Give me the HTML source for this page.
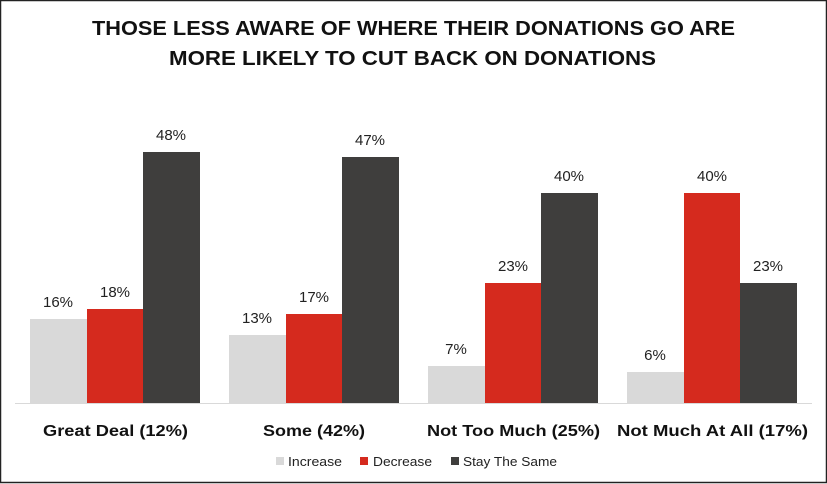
<!DOCTYPE html>
<html><head><style>
html,body{margin:0;padding:0;background:#fff;}
svg{display:block;font-family:"Liberation Sans",sans-serif;}
</style></head><body>
<svg width="827" height="484" viewBox="0 0 827 484" xmlns="http://www.w3.org/2000/svg">
<rect x="0.5" y="0.5" width="826" height="482" fill="#fff" stroke="#222" stroke-width="1.5"/>
<g font-weight="bold" font-size="20" fill="#111">
<text x="92" y="35" textLength="643" lengthAdjust="spacingAndGlyphs">THOSE LESS AWARE OF WHERE THEIR DONATIONS GO ARE</text>
<text x="169" y="65" textLength="487" lengthAdjust="spacingAndGlyphs">MORE LIKELY TO CUT BACK ON DONATIONS</text>
</g>
<line x1="15" y1="403.5" x2="812" y2="403.5" stroke="#d9d9d9" stroke-width="1"/>
<g>
<rect x="30" y="319" width="57" height="84" fill="#d9d9d9"/>
<rect x="87" y="309" width="56" height="94" fill="#d52a1e"/>
<rect x="143" y="152" width="57" height="251" fill="#3f3e3d"/>
<rect x="229" y="335" width="57" height="68" fill="#d9d9d9"/>
<rect x="286" y="314" width="56" height="89" fill="#d52a1e"/>
<rect x="342" y="157" width="57" height="246" fill="#3f3e3d"/>
<rect x="428" y="366" width="57" height="37" fill="#d9d9d9"/>
<rect x="485" y="283" width="56" height="120" fill="#d52a1e"/>
<rect x="541" y="193" width="57" height="210" fill="#3f3e3d"/>
<rect x="627" y="372" width="57" height="31" fill="#d9d9d9"/>
<rect x="684" y="193" width="56" height="210" fill="#d52a1e"/>
<rect x="740" y="283" width="57" height="120" fill="#3f3e3d"/>
</g>
<g font-size="15" fill="#222" text-anchor="middle">
<text x="58" y="307">16%</text><text x="115" y="297">18%</text><text x="171" y="140">48%</text>
<text x="257" y="323">13%</text><text x="314" y="302">17%</text><text x="370" y="145">47%</text>
<text x="456" y="354">7%</text><text x="513" y="271">23%</text><text x="569" y="181">40%</text>
<text x="655" y="360">6%</text><text x="712" y="181">40%</text><text x="768" y="271">23%</text>
</g>
<g font-size="16" font-weight="bold" fill="#111">
<text x="43" y="436" textLength="145" lengthAdjust="spacingAndGlyphs">Great Deal (12%)</text>
<text x="263" y="436" textLength="102" lengthAdjust="spacingAndGlyphs">Some (42%)</text>
<text x="427" y="436" textLength="173" lengthAdjust="spacingAndGlyphs">Not Too Much (25%)</text>
<text x="617" y="436" textLength="191" lengthAdjust="spacingAndGlyphs">Not Much At All (17%)</text>
</g>
<g font-size="13" fill="#222">
<rect x="276" y="457" width="8" height="8" fill="#d9d9d9"/><text x="288" y="466" textLength="54" lengthAdjust="spacingAndGlyphs">Increase</text>
<rect x="360" y="457" width="8" height="8" fill="#d52a1e"/><text x="373" y="466" textLength="59" lengthAdjust="spacingAndGlyphs">Decrease</text>
<rect x="451" y="457" width="8" height="8" fill="#3f3e3d"/><text x="463" y="466" textLength="94" lengthAdjust="spacingAndGlyphs">Stay The Same</text>
</g>
</svg>
</body></html>
